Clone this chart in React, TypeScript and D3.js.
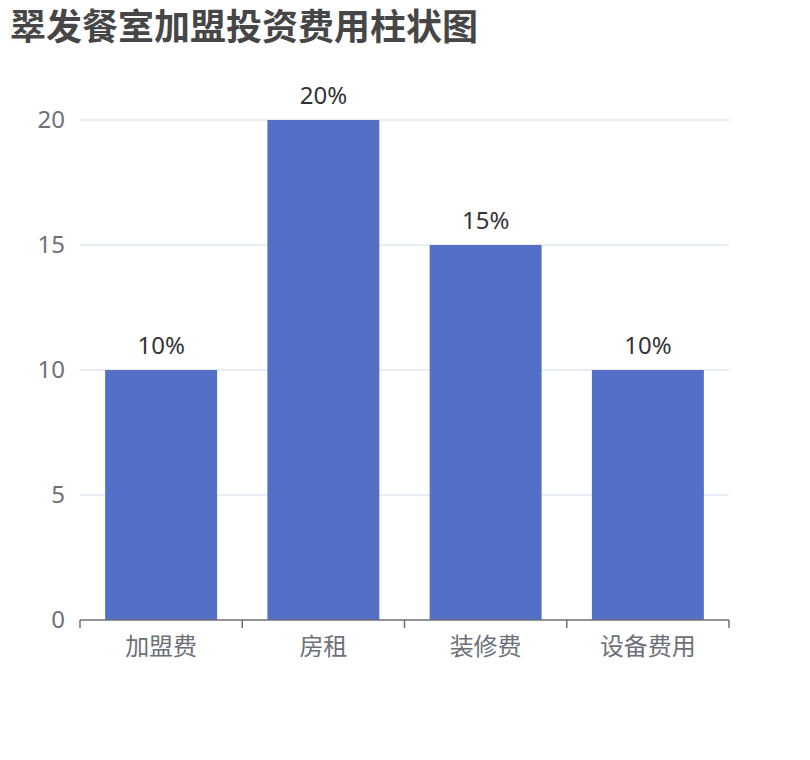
import React, { useEffect, useRef } from 'react';
import * as d3 from 'd3';

const categories = ['加盟费', '房租', '装修费', '设备费用'];
const values = [10, 20, 15, 10];
const valueLabels = ['10%', '20%', '15%', '10%'];
const yTicks = [0, 5, 10, 15, 20];

const width = 810;
const height = 760;

export default function App() {
  const svgRef = useRef<SVGSVGElement>(null);

  useEffect(() => {
    if (!svgRef.current) return;
    const svg = d3.select(svgRef.current);
    svg.selectAll('*').remove();

    const font = '"Noto Sans", "Noto Sans CJK SC", sans-serif';
    const margin = { top: 120, right: 81, bottom: 140, left: 80 };

    const x = d3.scaleBand<string>()
      .domain(categories)
      .range([margin.left, width - margin.right])
      .paddingInner(0.31)
      .paddingOuter(0.155);

    const y = d3.scaleLinear()
      .domain([0, 20])
      .range([height - margin.bottom, margin.top]);

    // title
    svg.append('text')
      .attr('x', 10)
      .attr('y', 40)
      .style('font-family', font)
      .style('font-size', '36px')
      .style('font-weight', 'bold')
      .style('fill', '#464646')
      .text('翠发餐室加盟投资费用柱状图');

    // grid lines
    svg.append('g')
      .selectAll('line')
      .data(yTicks.filter(t => t !== 0))
      .enter()
      .append('line')
      .attr('x1', margin.left)
      .attr('x2', width - margin.right)
      .attr('y1', d => y(d))
      .attr('y2', d => y(d))
      .style('stroke', '#e0e6f1')
      .style('stroke-width', 1.5);

    // y labels
    svg.append('g')
      .selectAll('text')
      .data(yTicks)
      .enter()
      .append('text')
      .attr('x', 65)
      .attr('y', d => y(d))
      .attr('dy', '0.35em')
      .style('text-anchor', 'end')
      .style('font-family', font)
      .style('font-size', '24px')
      .style('fill', '#6e7079')
      .text(d => d);

    // bars
    svg.append('g')
      .selectAll('rect')
      .data(values)
      .enter()
      .append('rect')
      .attr('x', (_, i) => x(categories[i])!)
      .attr('y', d => y(d))
      .attr('width', x.bandwidth())
      .attr('height', d => y(0) - y(d))
      .style('fill', '#5470c6');

    // value labels
    svg.append('g')
      .selectAll('text')
      .data(values)
      .enter()
      .append('text')
      .attr('x', (_, i) => x(categories[i])! + x.bandwidth() / 2)
      .attr('y', d => y(d) - 16)
      .style('text-anchor', 'middle')
      .style('font-family', font)
      .style('font-size', '24px')
      .style('fill', '#333')
      .text((_, i) => valueLabels[i]);

    // x axis
    const step = (width - margin.right - margin.left) / categories.length;
    const axis = svg.append('g');
    axis.append('line')
      .attr('x1', margin.left)
      .attr('x2', width - margin.right)
      .attr('y1', y(0))
      .attr('y2', y(0))
      .style('stroke', '#6e7079')
      .style('stroke-width', 1.5);
    axis.selectAll('.tick')
      .data(d3.range(categories.length + 1))
      .enter()
      .append('line')
      .attr('x1', i => margin.left + i * step)
      .attr('x2', i => margin.left + i * step)
      .attr('y1', y(0))
      .attr('y2', y(0) + 8)
      .style('stroke', '#6e7079')
      .style('stroke-width', 1.5);
    axis.selectAll('.label')
      .data(categories)
      .enter()
      .append('text')
      .attr('x', d => x(d)! + x.bandwidth() / 2)
      .attr('y', y(0) + 35)
      .style('text-anchor', 'middle')
      .style('font-family', font)
      .style('font-size', '24px')
      .style('fill', '#6e7079')
      .text(d => d);
  }, []);

  return (
    <svg
      ref={svgRef}
      width={width}
      height={height}
      style={{ position: 'absolute', left: 0, top: 0, background: '#fff' }}
    />
  );
}
